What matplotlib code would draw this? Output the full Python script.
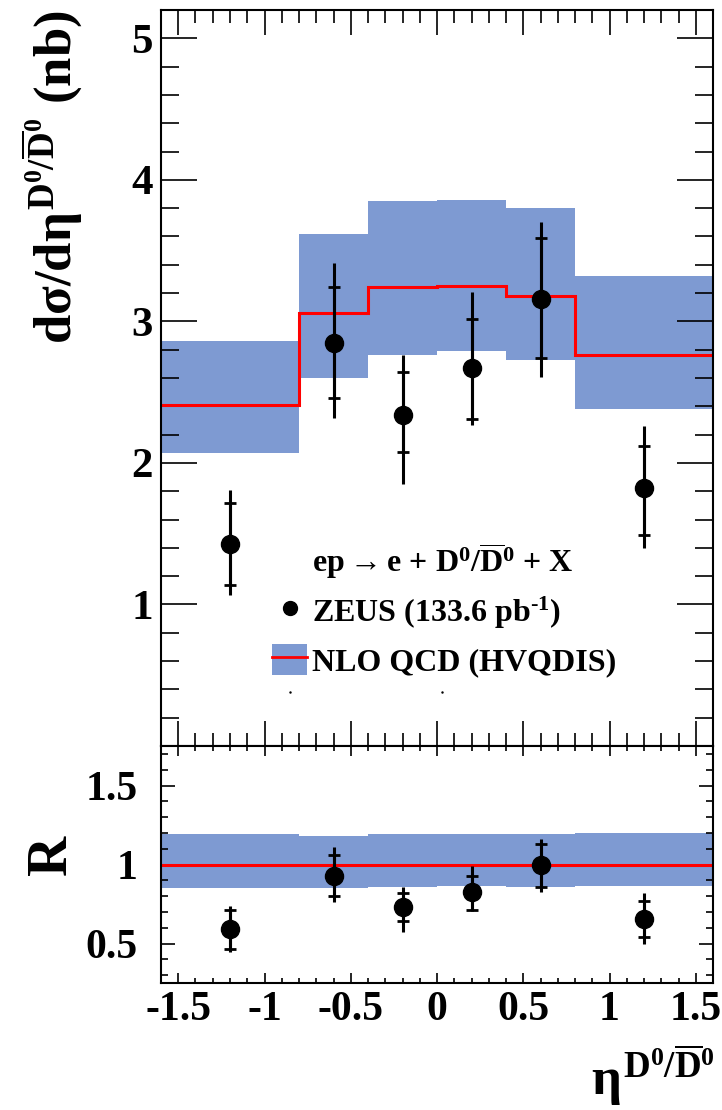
import matplotlib
matplotlib.use('Agg')
import matplotlib.pyplot as plt
from matplotlib.lines import Line2D
from matplotlib.patches import Patch
from matplotlib.ticker import MultipleLocator

plt.rcParams['font.family'] = ['Liberation Serif', 'DejaVu Serif']
plt.rcParams['font.weight'] = 'bold'
plt.rcParams['mathtext.fontset'] = 'custom'
plt.rcParams['mathtext.rm'] = 'Liberation Serif:bold'
plt.rcParams['mathtext.it'] = 'Liberation Serif:bold'
plt.rcParams['mathtext.bf'] = 'Liberation Serif:bold'

# binning in eta
bin_edges = [-1.6, -0.8, -0.4, 0.0, 0.4, 0.8, 1.6]
eta = [-1.2, -0.6, -0.2, 0.2, 0.6, 1.2]

# ZEUS data, d sigma / d eta (nb)
xsec = [1.43, 2.85, 2.34, 2.67, 3.16, 1.82]
xsec_stat_up = [0.29, 0.39, 0.30, 0.35, 0.43, 0.30]
xsec_stat_dn = [0.29, 0.39, 0.26, 0.36, 0.42, 0.33]
xsec_tot_up = [0.38, 0.56, 0.42, 0.54, 0.54, 0.44]
xsec_tot_dn = [0.36, 0.53, 0.49, 0.40, 0.55, 0.42]

# NLO QCD (HVQDIS) prediction and uncertainty band
nlo = [2.41, 3.06, 3.24, 3.25, 3.18, 2.76]
nlo_up = [2.86, 3.62, 3.85, 3.86, 3.80, 3.32]
nlo_dn = [2.07, 2.60, 2.76, 2.79, 2.73, 2.38]

# ratio data / NLO
ratio = [0.59, 0.93, 0.73, 0.825, 1.00, 0.655]
ratio_stat_up = [0.12, 0.13, 0.09, 0.105, 0.13, 0.115]
ratio_stat_dn = [0.125, 0.13, 0.09, 0.115, 0.14, 0.115]
ratio_tot_up = [0.15, 0.18, 0.13, 0.165, 0.16, 0.165]
ratio_tot_dn = [0.145, 0.17, 0.16, 0.12, 0.175, 0.155]
ratio_band_up = [1.19, 1.18, 1.19, 1.19, 1.19, 1.20]
ratio_band_dn = [0.85, 0.85, 0.855, 0.865, 0.86, 0.865]

band_color = '#7E9AD2'
W, H = 722, 1110
x0, x1 = 161, 713

fig = plt.figure(figsize=(W / 100, H / 100), dpi=100)
ax = fig.add_axes([x0 / W, 1 - 746 / H, (x1 - x0) / W, 736 / H])
axr = fig.add_axes([x0 / W, 1 - 983 / H, (x1 - x0) / W, 237 / H], sharex=ax)


def draw_data(a, y, s_up, s_dn, t_up, t_dn, ms):
    a.errorbar(eta, y, yerr=[t_dn, t_up], fmt='none', ecolor='black',
               elinewidth=2.2, zorder=4)
    a.errorbar(eta, y, yerr=[s_dn, s_up], fmt='none', ecolor='black',
               elinewidth=2.2, capsize=4, capthick=2, zorder=4)
    a.plot(eta, y, 'o', color='black', ms=ms, zorder=5)


# top panel
ax.stairs(nlo_up, bin_edges, baseline=nlo_dn, fill=True, color=band_color,
          lw=0, zorder=1)
ax.stairs(nlo, bin_edges, baseline=None, color='red', lw=2.2, zorder=2)
draw_data(ax, xsec, xsec_stat_up, xsec_stat_dn, xsec_tot_up, xsec_tot_dn, 13)
ax.set_xlim(-1.6, 1.6)
ax.set_ylim(0, 5.2)
ax.yaxis.set_minor_locator(MultipleLocator(0.2))
ax.xaxis.set_major_locator(MultipleLocator(0.5))
ax.xaxis.set_minor_locator(MultipleLocator(0.1))
ax.set_yticks([1, 2, 3, 4, 5])
ax.tick_params(which='both', direction='in', top=True, right=True,
               labelbottom=False, width=1.2, labelsize=31, pad=6)
ax.tick_params(axis='x', which='major', length=18)
ax.tick_params(axis='x', which='minor', length=9.5)
ax.tick_params(axis='y', which='major', length=26)
ax.tick_params(axis='y', which='minor', length=13)

handles = [Line2D([], [], lw=0),
           Line2D([], [], ls='none', marker='o', color='black', ms=10),
           (Patch(color=band_color, lw=0), Line2D([], [], color='red', lw=2))]
labels = [r'ep$\rightarrow$e + D$^0$/$\overline{\mathrm{D}}^0$ + X',
          r'ZEUS (133.6 pb$^{\text{-1}}$)',
          'NLO QCD (HVQDIS)']
leg = ax.legend(handles, labels, loc='upper left',
                bbox_to_anchor=((272 - x0) / (x1 - x0), (746 - 541) / 736),
                frameon=False, fontsize=23, borderpad=0, borderaxespad=0,
                handlelength=1.1, handleheight=1.1, handletextpad=0.15,
                labelspacing=0.42)
ax.plot([(290 - x0) / (x1 - x0), (442 - x0) / (x1 - x0)],
        [(746 - 692) / 736] * 2,
        ls='none', marker='.', ms=1.5, color='black', transform=ax.transAxes)

# ratio panel
axr.stairs(ratio_band_up, bin_edges, baseline=ratio_band_dn, fill=True,
           color=band_color, lw=0, zorder=1)
axr.axhline(1.0, color='red', lw=2.2, zorder=2)
draw_data(axr, ratio, ratio_stat_up, ratio_stat_dn, ratio_tot_up,
          ratio_tot_dn, 13)
axr.set_ylim(0.25, 1.75)
axr.set_yticks([0.5, 1, 1.5])
axr.set_yticklabels(['0.5', '1', '1.5'])
axr.yaxis.set_minor_locator(MultipleLocator(0.1))
axr.set_xticks([-1.5, -1, -0.5, 0, 0.5, 1, 1.5])
axr.set_xticklabels(['-1.5', '-1', '-0.5', '0', '0.5', '1', '1.5'])
axr.tick_params(which='both', direction='in', top=True, right=True,
                width=1.2, labelsize=30)
axr.tick_params(axis='x', which='major', length=7, pad=6)
axr.tick_params(axis='x', which='minor', length=3.8)
axr.tick_params(axis='y', which='major', length=10, pad=17)
axr.tick_params(axis='y', which='minor', length=5)

for a in (ax, axr):
    for sp in a.spines.values():
        sp.set_linewidth(1.5)

fig.text(52 / W, 1 - 10 / H,
         r'd$\sigma$/d$\eta^{\mathrm{D^0/\overline{D}^0}}$ (nb)',
         rotation=90, ha='center', va='top', fontsize=38)
fig.text(52 / W, 1 - 855 / H, 'R', rotation=90, ha='center', va='center',
         fontsize=40)
fig.text(715 / W, 1 - 1075 / H, r'$\eta^{\mathrm{D^0/\overline{D}^0}}$',
         ha='right', va='center', fontsize=38)

fig.savefig('out.png', dpi=100)
